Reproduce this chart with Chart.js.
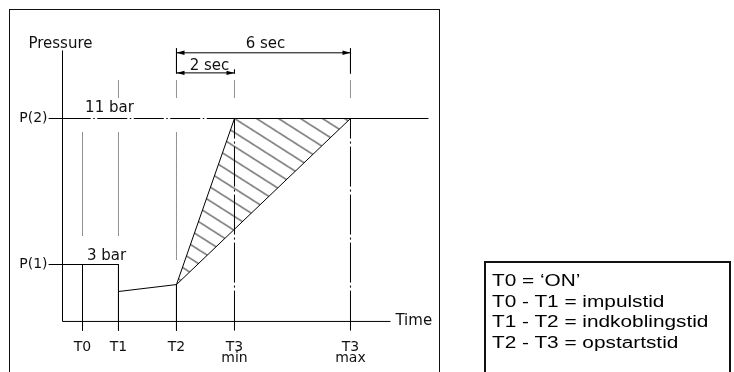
<!DOCTYPE html>
<html>
<head>
<meta charset="utf-8">
<script src="https://cdn.jsdelivr.net/npm/chart.js@4.4.1/dist/chart.umd.min.js"></script>
<style>
  html, body { margin: 0; padding: 0; background: #fff; width: 734px; height: 372px; overflow: hidden; }
  #frame { position: absolute; left: 9px; top: 9px; width: 431px; height: 420px; border: 1.5px solid #111; box-sizing: border-box; }
  #chart { position: absolute; left: 0; top: 0; }
  #legend { position: absolute; left: 484px; top: 261px; width: 247px; height: 140px; border: 2px solid #111; box-sizing: border-box;
            padding: 8px 0 0 6px; font: 16px "Liberation Sans", Arial, sans-serif; line-height: 20.7px; color: #000; }
  #legend div { transform: scaleX(1.3); transform-origin: left center; white-space: nowrap; }
</style>
</head>
<body>
<div id="frame"></div>
<canvas id="chart" width="734" height="372"></canvas>
<div id="legend"></div>
<script>
// ---------------- DATA ----------------
const T_NAMES = ['T0', 'T1', 'T2', 'T3', 'T3'];
const T_SUBS  = ['', '', '', 'min', 'max'];
const T_SEC   = [0.69, 1.93, 3.93, 5.93, 9.93];     // time positions (s)
const P_NAMES = ['P(1)', 'P(2)'];
const P_BAR   = [3, 11];                             // pressure levels (bar)
const P_DROP  = [1.52, 1.9];                         // pressure at T1 (after impulse) and at T2

const AXIS_ORIGIN  = { x: 0, y: -0.12 };
const TIME_END     = 11.31;
const PRESSURE_END = 14.73;
const TICK_BOTTOM  = -0.62;
const P_TICK_START = -0.48;
const P2_LINE_END  = 12.62;

const DIM_6S_Y = 14.6, DIM_2S_Y = 13.5;
const EXT_TOP = 14.84, EXT_BOT = 13.47, EXT_2S_TOP = 13.68;
const GUIDE_UPPER = [13.08, 12.15];
const GUIDE_LOWER = [10.23, 4.54];
const GUIDE_T2_END = 3.27;

const TEXTS   = ['Pressure', '11 bar', '3 bar', '6 sec', '2 sec'];
const TEXT_X  = [-0.07, 1.62, 1.52, 7.0, 5.07];
const TEXT_Y  = [15.1, 11.55, 3.47, 15.1, 13.88];
const TIME_LABEL = { text: 'Time', x: 11.48, y: -0.12 };
const T_LABEL_Y = -1.55, T_SUB_Y = -2.15;

const LEGEND_LINES = ['T0 = \u2018ON\u2019', 'T0 - T1 = impulstid', 'T1 - T2 = indkoblingstid', 'T2 - T3 = opstartstid'];

// ---------------- legend box ----------------
document.getElementById('legend').innerHTML = LEGEND_LINES.map(s => `<div>${s}</div>`).join('');

// ---------------- hatch pattern ----------------
const canvas = document.getElementById('chart');
const ctx = canvas.getContext('2d');
const tile = document.createElement('canvas');
tile.width = 22; tile.height = 14;
const tc = tile.getContext('2d');
tc.strokeStyle = '#000';
tc.lineWidth = 1;
tc.beginPath();
[-14, 0, 14].forEach(c => { tc.moveTo(-22, -14 + c); tc.lineTo(44, 28 + c); });
tc.stroke();
const hatch = ctx.createPattern(tile, 'repeat');

// ---------------- datasets ----------------
const pt = (x, y) => ({ x, y });
function seg(data, extra) {
  return Object.assign({ data, borderColor: '#000', borderWidth: 1, pointRadius: 0, fill: false, clip: false }, extra || {});
}
const DOTTED = { borderColor: '#222', borderDash: [1, 1] };
const DASHDOT_V = { borderDash: [40, 3, 2, 3] };

const datasets = [
  // hatched area between fastest and slowest start-up
  seg([pt(T_SEC[2], P_DROP[1]), pt(T_SEC[3], P_BAR[1]), pt(T_SEC[4], P_BAR[1])],
      { fill: 'shape', backgroundColor: hatch, borderWidth: 0 }),
  // axes
  seg([pt(AXIS_ORIGIN.x, AXIS_ORIGIN.y), pt(AXIS_ORIGIN.x, PRESSURE_END)]),
  seg([pt(AXIS_ORIGIN.x, AXIS_ORIGIN.y), pt(TIME_END, AXIS_ORIGIN.y)]),
  // impulse P(1)
  seg([pt(P_TICK_START, P_BAR[0]), pt(T_SEC[1], P_BAR[0]), pt(T_SEC[1], TICK_BOTTOM)]),
  seg([pt(T_SEC[0], P_BAR[0]), pt(T_SEC[0], TICK_BOTTOM)]),
  // engaging T1 -> T2
  seg([pt(T_SEC[1], P_DROP[0]), pt(T_SEC[2], P_DROP[1]), pt(T_SEC[2], TICK_BOTTOM)]),
  // start-up edges
  seg([pt(T_SEC[2], P_DROP[1]), pt(T_SEC[3], P_BAR[1])]),
  seg([pt(T_SEC[2], P_DROP[1]), pt(T_SEC[4], P_BAR[1])]),
  // P(2) level
  seg([pt(P_TICK_START, P_BAR[1]), pt(AXIS_ORIGIN.x, P_BAR[1])]),
  seg([pt(AXIS_ORIGIN.x, P_BAR[1]), pt(T_SEC[3], P_BAR[1])], { borderDash: [30, 2.5, 1.5, 2.5], borderDashOffset: 1.75 }),
  seg([pt(T_SEC[3], P_BAR[1]), pt(P2_LINE_END, P_BAR[1])]),
  // T3 min / max center lines
  seg([pt(T_SEC[3], TICK_BOTTOM), pt(T_SEC[3], P_BAR[1])], DASHDOT_V),
  seg([pt(T_SEC[4], TICK_BOTTOM), pt(T_SEC[4], P_BAR[1])], DASHDOT_V),
  // dimension lines
  seg([pt(T_SEC[2], DIM_6S_Y), pt(T_SEC[4], DIM_6S_Y)], { arrows: true }),
  seg([pt(T_SEC[2], DIM_2S_Y), pt(T_SEC[3], DIM_2S_Y)], { arrows: true }),
  seg([pt(T_SEC[2], EXT_TOP), pt(T_SEC[2], EXT_BOT)]),
  seg([pt(T_SEC[4], EXT_TOP), pt(T_SEC[4], EXT_BOT)]),
  seg([pt(T_SEC[3], EXT_2S_TOP), pt(T_SEC[3], EXT_BOT)]),
  // dotted guides
  seg([pt(T_SEC[0], GUIDE_LOWER[0]), pt(T_SEC[0], GUIDE_LOWER[1])], DOTTED),
  seg([pt(T_SEC[1], GUIDE_LOWER[0]), pt(T_SEC[1], GUIDE_LOWER[1])], DOTTED),
  seg([pt(T_SEC[2], GUIDE_LOWER[0]), pt(T_SEC[2], GUIDE_T2_END)], DOTTED),
  ...[1, 2, 3, 4].map(i => seg([pt(T_SEC[i], GUIDE_UPPER[0]), pt(T_SEC[i], GUIDE_UPPER[1])], DOTTED))
];

// ---------------- annotations plugin ----------------
const CAD_FONT = '15px "DejaVu Sans", sans-serif';
const TICK_FONT = '14px "DejaVu Sans", sans-serif';
const annotate = {
  id: 'annotate',
  beforeDraw(chart) {
    const xs = chart.scales.x, ys = chart.scales.y;
    hatch.setTransform(new DOMMatrix().translate(xs.getPixelForValue(T_SEC[3]), ys.getPixelForValue(P_BAR[1])));
  },
  afterDatasetsDraw(chart) {
    const c = chart.ctx;
    c.save();
    c.fillStyle = '#000';
    chart.data.datasets.forEach((ds, i) => {
      if (!ds.arrows) return;
      const pts = chart.getDatasetMeta(i).data;
      const a = pts[0], b = pts[pts.length - 1];
      [[a, b], [b, a]].forEach(([tip, from]) => {
        const dir = Math.sign(tip.x - from.x);
        c.beginPath();
        c.moveTo(tip.x, tip.y);
        c.lineTo(tip.x - dir * 8, tip.y - 2.2);
        c.lineTo(tip.x - dir * 8, tip.y + 2.2);
        c.closePath();
        c.fill();
      });
    });
    c.restore();
  },
  afterDraw(chart) {
    const c = chart.ctx, xs = chart.scales.x, ys = chart.scales.y;
    const X = v => xs.getPixelForValue(v), Y = v => ys.getPixelForValue(v);
    c.save();
    c.fillStyle = '#111';
    c.font = CAD_FONT;
    c.textBaseline = 'middle';
    c.textAlign = 'center';
    TEXTS.forEach((t, i) => c.fillText(t, X(TEXT_X[i]), Y(TEXT_Y[i])));
    c.font = TICK_FONT;
    T_NAMES.forEach((t, i) => {
      c.fillText(t, X(T_SEC[i]), Y(T_LABEL_Y));
      if (T_SUBS[i]) c.fillText(T_SUBS[i], X(T_SEC[i]), Y(T_SUB_Y));
    });
    c.textAlign = 'right';
    P_NAMES.forEach((t, i) => c.fillText(t, X(P_TICK_START) - 1, Y(P_BAR[i])));
    c.font = CAD_FONT;
    c.textAlign = 'left';
    c.fillText(TIME_LABEL.text, X(TIME_LABEL.x), Y(TIME_LABEL.y));
    c.restore();
  }
};

new Chart(ctx, {
  type: 'line',
  data: { datasets },
  options: {
    responsive: false,
    animation: false,
    events: [],
    layout: { padding: { left: 33.5, right: 294.5, top: 27.25, bottom: 34.5 } },
    plugins: { legend: { display: false }, tooltip: { enabled: false } },
    scales: {
      x: { type: 'linear', display: false, min: -1, max: 13 },
      y: { type: 'linear', display: false, min: -1, max: 16 }
    },
    elements: { line: { tension: 0 } }
  },
  plugins: [annotate]
});
</script>
</body>
</html>
